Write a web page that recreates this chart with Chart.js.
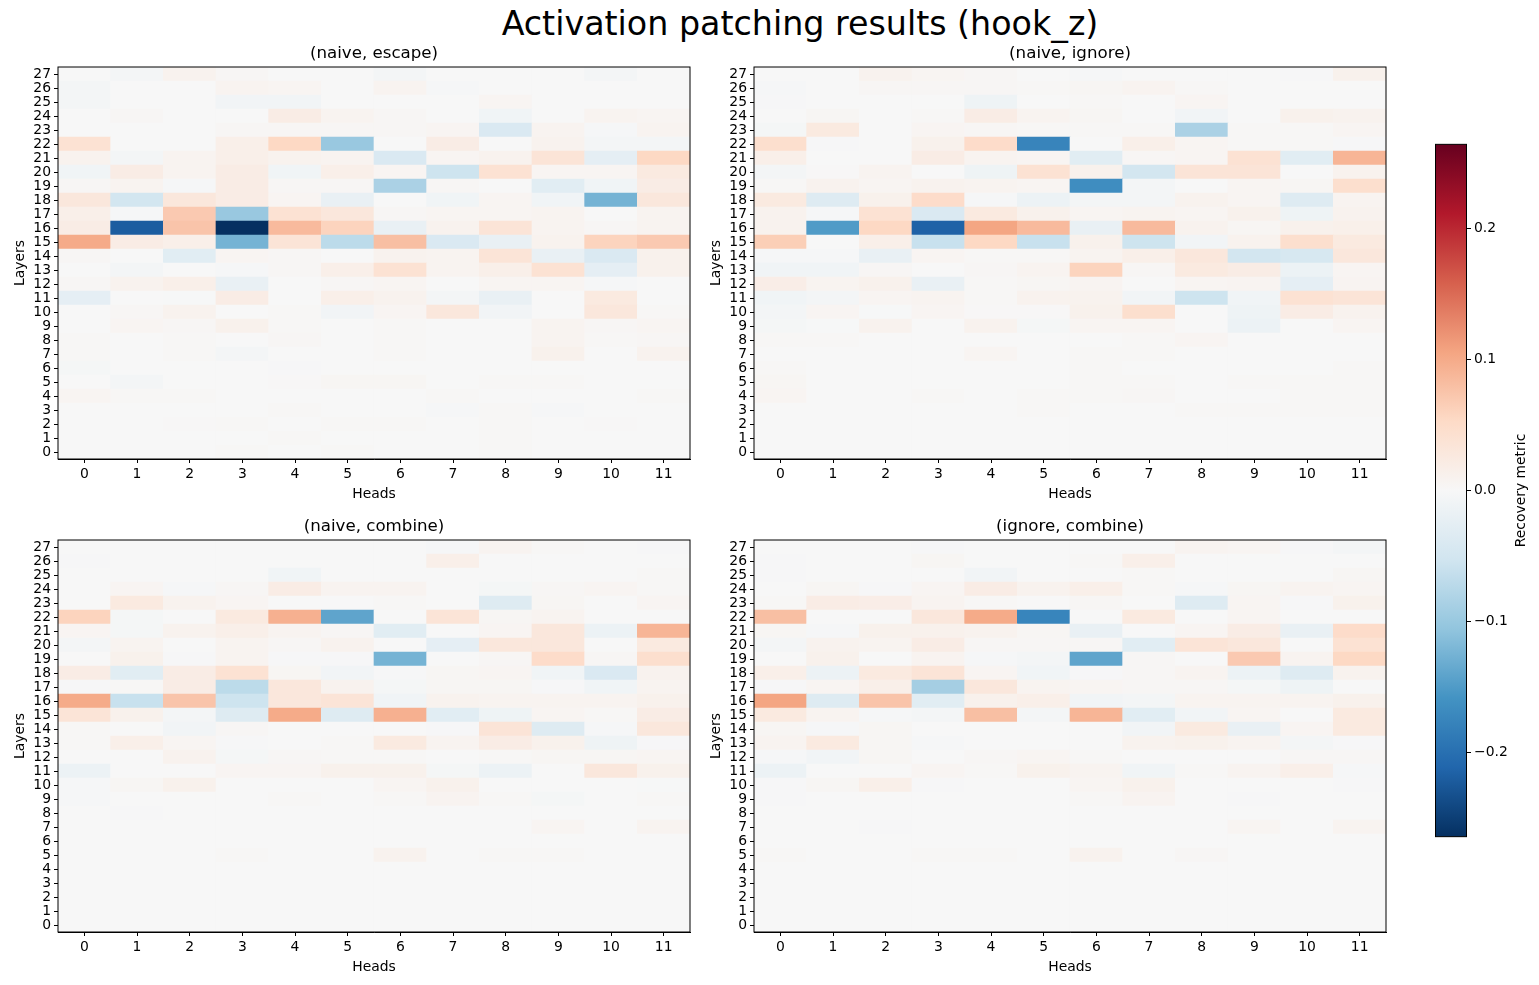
<!DOCTYPE html>
<html>
<head>
<meta charset="utf-8">
<script src="https://cdn.jsdelivr.net/npm/chart.js@4.4.1/dist/chart.umd.min.js"></script>
<style>
    body { margin: 0; background: #fff; width: 1539px; height: 985px; position: relative; overflow: hidden; font-family: "DejaVu Sans", sans-serif; }
    canvas { position: absolute; }
    #suptitle { position: absolute; left: 0; top: 4px; width: 1600px; text-align: center; font-size: 33.3px; line-height: 40px; color: #000; }
</style>
</head>
<body>
<div id="suptitle">Activation patching results (hook_z)</div>
<canvas id="p1" width="732" height="470" style="left:8px;top:37px"></canvas>
<canvas id="p2" width="732" height="470" style="left:704px;top:37px"></canvas>
<canvas id="p3" width="732" height="470" style="left:8px;top:510px"></canvas>
<canvas id="p4" width="732" height="470" style="left:704px;top:510px"></canvas>
<canvas id="cbar" width="102" height="715" style="left:1435px;top:133px"></canvas>
<script>
const heads = [0, 1, 2, 3, 4, 5, 6, 7, 8, 9, 10, 11];
const layers = [];
for (let i = 0; i < 28; i++) layers.push(i);
const cbTicks = [-0.2, -0.1, 0, 0.1, 0.2];
const VMAX = 0.264;

// rows are layers 0..27, columns heads 0..11
const naiveEscape = [
    [0, 0, 0, 0.002, 0, 0.002, 0, 0, 0.002, 0, 0, 0],
    [0, 0, 0, 0, 0.002, 0, 0, 0, 0.002, 0, 0, 0],
    [0, 0, 0.001, 0.002, 0, 0.002, 0.002, 0, 0.002, 0, 0.001, 0],
    [0, 0, 0, 0, 0.002, 0, 0, -0.003, 0.002, -0.003, 0, 0],
    [0.006, 0.002, 0.002, 0, 0, 0, 0, 0.002, 0, 0, 0, 0.002],
    [0, -0.006, 0, 0, 0.001, 0.004, 0.004, 0, 0.002, 0.002, 0, 0],
    [-0.004, 0, 0, 0, -0.002, 0, 0, 0, 0, 0, 0, 0],
    [0.002, 0, 0.002, -0.005, 0, 0, 0.002, 0, 0, 0.012, 0, 0.01],
    [0.002, 0, 0.002, 0, 0.003, 0, 0.002, 0, 0, 0.008, 0.002, 0.003],
    [0, 0.005, 0.003, 0.012, 0.002, 0, 0.002, 0, 0, 0.008, 0.003, 0.005],
    [0, 0.003, 0.01, 0, 0.002, -0.008, 0.005, 0.03, -0.008, 0, 0.03, 0.002],
    [-0.025, 0, -0.001, 0.02, 0, 0.015, 0.01, -0.005, -0.02, 0, 0.025, 0],
    [0.003, 0.01, 0.015, -0.02, 0, 0.003, 0.005, 0, 0.005, 0.005, -0.003, 0],
    [0, -0.005, 0, -0.003, 0.003, 0.015, 0.04, 0.008, 0.015, 0.04, -0.025, 0.012],
    [0.003, 0, -0.03, 0.005, 0.003, 0, 0.01, 0.008, 0.035, -0.02, -0.04, 0.012],
    [0.1, 0.02, 0.015, -0.125, 0.035, -0.07, 0.08, -0.04, -0.02, 0.01, 0.06, 0.07],
    [0.02, -0.22, 0.075, -0.264, 0.085, 0.06, -0.02, 0.01, 0.035, 0.008, 0.003, 0.008],
    [0.015, -0.003, 0.07, -0.1, 0.04, 0.03, 0.003, 0.005, 0.005, 0.008, 0, 0.008],
    [0.03, -0.05, 0.03, 0.02, 0.005, -0.02, 0, -0.01, 0.005, -0.01, -0.125, 0.03],
    [0.003, 0.008, -0.003, 0.02, 0.003, 0.003, -0.085, 0.003, 0, -0.03, -0.01, 0.02],
    [-0.01, 0.02, 0.008, 0.02, -0.01, 0.015, 0.005, -0.055, 0.04, 0.005, 0.005, 0.025],
    [0.01, -0.005, 0.008, 0.015, 0.01, 0.008, -0.04, 0.005, 0.01, 0.035, -0.025, 0.055],
    [0.04, 0, 0, 0.015, 0.055, -0.1, 0, 0.02, 0, 0.01, -0.005, -0.005],
    [0, 0, 0, 0.003, 0.003, 0.003, 0.003, 0.005, -0.04, 0.008, -0.003, 0.008],
    [0, 0.003, 0, 0, 0.02, 0.008, 0.003, 0, -0.01, 0, 0.008, 0.005],
    [-0.005, 0, 0, -0.008, -0.008, 0, 0, 0, 0.005, 0, 0, 0],
    [-0.005, 0, 0, 0.008, 0.005, 0, 0.008, -0.003, 0, 0, 0, 0],
    [0, -0.005, 0.01, 0.003, 0, 0, -0.005, 0, 0, 0, -0.005, 0],
];

const naiveIgnore = [
    [0, 0, 0, 0, 0, 0, 0, 0, 0, 0, 0, 0],
    [0, 0, 0, 0, 0, 0, 0, 0, 0, 0, 0, 0],
    [0, 0, 0, 0, 0, 0, 0, 0, 0, 0, 0, 0],
    [0, 0, 0, 0, 0, 0.002, 0, 0, 0.002, 0.002, 0.002, 0.002],
    [0.005, 0, 0, 0.002, 0, 0.002, 0.002, 0.003, 0, 0, 0.002, 0.002],
    [0.004, 0, 0, 0, 0, 0, 0.002, 0.002, 0, 0.002, 0.002, 0.002],
    [0.002, 0, 0, 0, 0, 0, 0.002, 0, 0, 0, 0, 0.002],
    [0, 0, 0, 0, 0.006, 0, 0.002, 0.002, 0, 0, 0, 0],
    [0.002, 0.002, 0, 0, 0, 0, 0, 0.002, 0.005, 0, 0, 0],
    [-0.004, -0.001, 0.01, 0, 0.01, -0.004, 0.005, 0.005, 0, -0.015, 0, 0.005],
    [-0.006, 0.006, -0.001, 0.006, 0.001, 0.001, 0.012, 0.045, 0, -0.012, 0.02, 0.01],
    [-0.01, -0.006, 0.006, 0.008, 0.002, 0.01, 0.01, -0.008, -0.055, -0.01, 0.04, 0.035],
    [0.018, 0.008, 0.012, -0.02, 0.002, 0.004, 0.007, 0, 0.006, 0.007, -0.025, 0.007],
    [-0.01, -0.01, 0.003, 0, 0.003, 0.008, 0.06, 0.003, 0.025, 0.02, -0.015, 0.005],
    [-0.003, -0.003, -0.02, 0.006, 0.002, 0.002, 0.008, 0.015, 0.03, -0.05, -0.045, 0.03],
    [0.065, 0, 0.015, -0.06, 0.055, -0.06, 0.012, -0.055, -0.008, 0.01, 0.045, 0.025],
    [0.01, -0.15, 0.055, -0.215, 0.105, 0.085, -0.02, 0.085, 0.01, 0.004, 0.012, 0.014],
    [0.01, -0.003, 0.04, -0.04, 0.025, 0.012, 0.005, 0.008, 0.006, 0.012, -0.012, 0.01],
    [0.025, -0.035, 0.012, 0.05, -0.003, -0.015, -0.005, -0.006, 0.01, 0.006, -0.035, 0.008],
    [0.002, 0.01, 0.005, 0.01, 0.008, 0.005, -0.165, -0.005, 0, 0.006, 0.004, 0.045],
    [-0.006, 0.001, 0.008, 0, -0.012, 0.04, 0.012, -0.05, 0.035, 0.035, 0, 0.01],
    [0.015, 0, 0, 0.02, 0.008, 0.006, -0.03, 0.003, 0.006, 0.04, -0.03, 0.09],
    [0.045, -0.002, 0, 0.012, 0.05, -0.176, 0, 0.015, 0.005, 0.002, 0.002, -0.002],
    [-0.004, 0.025, 0, 0.006, 0.003, 0.002, 0.002, 0.002, -0.085, 0.002, 0.002, 0.005],
    [0, 0.004, 0, 0.002, 0.02, 0.008, 0.004, 0, -0.008, 0, 0.012, 0.01],
    [-0.002, 0, 0, 0, -0.012, 0, 0.002, 0, 0.005, 0, 0, 0],
    [-0.003, 0, 0.003, 0.003, 0.003, 0.002, 0.004, 0.008, 0.002, 0, 0, 0],
    [0, 0, 0.01, 0.005, 0.003, 0, -0.003, 0, 0, 0, -0.002, 0.012],
];

const naiveCombine = [
    [0, 0, 0, 0, 0, 0, 0, 0, 0, 0, 0, 0],
    [0, 0, 0, 0, 0, 0, 0, 0, 0, 0, 0, 0],
    [0, 0, 0, 0, 0, 0, 0, 0, 0, 0, 0, 0],
    [0, 0, 0, 0, 0, 0, 0, 0, 0, 0, 0, 0],
    [0, 0, 0, 0, 0, 0, 0, 0, 0, 0, 0, 0],
    [0, 0, 0, 0.002, 0, 0, 0.01, 0, 0.002, 0.002, 0, 0],
    [0, 0, 0, 0, 0, 0, 0, 0, 0, 0, 0, 0],
    [0, 0, 0, 0, 0, 0, 0, 0, 0, 0.006, 0, 0.008],
    [0, -0.002, 0, 0, 0, 0, 0, 0, 0, 0, 0, 0],
    [-0.003, 0, 0, 0, 0.002, 0, 0.002, 0.008, 0.002, -0.004, 0, 0.002],
    [-0.003, 0.004, 0.012, 0, 0, 0, 0.006, 0.012, 0, 0, 0, -0.001],
    [-0.015, 0, 0, 0.006, 0.005, 0.012, 0.012, -0.004, -0.015, 0, 0.03, 0.012],
    [0, 0, 0.01, -0.004, 0.003, 0.002, 0.002, 0, 0.002, 0.004, 0.004, 0.006],
    [0.002, 0.015, 0.005, -0.002, 0, 0.002, 0.025, 0.008, 0.02, 0.012, -0.012, -0.002],
    [0.002, 0, -0.008, 0.003, 0, 0, 0, -0.002, 0.035, -0.035, -0.003, 0.03],
    [0.035, 0.012, -0.005, -0.035, 0.1, -0.035, 0.095, -0.03, -0.012, 0.006, 0.002, 0.02],
    [0.1, -0.06, 0.075, -0.055, 0.03, 0.035, -0.01, 0.01, 0.008, 0.008, 0.008, 0.012],
    [-0.002, 0.002, 0.02, -0.07, 0.03, 0.01, -0.004, 0.004, 0.004, -0.002, -0.01, 0.008],
    [0.02, -0.03, 0.02, 0.04, 0.004, -0.008, -0.002, 0.004, 0.006, -0.01, -0.04, 0.01],
    [0, 0.012, -0.002, 0.008, -0.002, -0.002, -0.125, 0, 0.003, 0.05, 0.003, 0.045],
    [-0.005, 0.008, 0, 0.008, 0.003, 0.01, 0, -0.025, 0.03, 0.03, 0, 0.025],
    [0.006, -0.004, 0.01, 0.015, 0.008, 0.003, -0.03, 0, 0.005, 0.03, -0.015, 0.09],
    [0.06, -0.004, 0, 0.025, 0.095, -0.14, 0, 0.035, 0.004, 0.008, 0, 0],
    [0, 0.025, 0.01, 0.006, 0, 0, 0.002, 0, -0.035, 0.004, 0, 0.006],
    [0, 0.005, -0.003, 0.003, 0.02, 0.008, 0.008, 0, -0.004, 0.003, 0.005, 0.002],
    [0, 0, 0, 0, -0.01, 0, 0, 0, 0, 0, 0, 0.002],
    [-0.002, 0, 0, 0, 0, 0, 0, 0.015, 0, 0, 0, 0],
    [0, 0, 0, 0, 0, 0, 0, -0.003, 0.008, 0.002, 0, -0.002],
];

const ignoreCombine = [
    [0, 0, 0, 0, 0, 0, 0, 0, 0, 0, 0, 0],
    [0, 0, 0, 0, 0, 0, 0, 0, 0, 0, 0, 0],
    [0, 0, 0, 0, 0, 0, 0, 0, 0, 0, 0, 0],
    [0, 0, 0, 0, 0, 0, 0, 0, 0, 0, 0, 0],
    [0, 0, 0, 0, 0, 0, 0, 0, 0, 0, 0, 0],
    [0.002, 0, 0, 0.002, 0.002, 0, 0.01, 0, 0.003, 0, 0, 0],
    [0, 0, 0, 0, 0, 0, 0, 0, 0, 0, 0, 0],
    [0, 0, -0.002, 0, 0, 0, 0, 0, 0, 0.006, 0, 0.008],
    [0, 0, 0, 0, 0, 0, 0, 0, 0, 0, 0, 0],
    [-0.002, 0, 0, 0, 0, 0, 0.002, 0.008, 0, -0.002, 0, 0],
    [-0.002, 0.004, 0.015, -0.002, 0, 0, 0.006, 0.012, 0, 0, 0, -0.002],
    [-0.015, 0, 0, 0.006, 0.002, 0.012, 0.008, -0.01, 0.002, 0.008, 0.015, -0.003],
    [-0.003, -0.008, 0.004, 0, 0.003, 0.006, 0.002, 0, 0, 0, 0.003, 0.003],
    [0.008, 0.025, 0.004, -0.003, 0, 0, 0, 0.01, 0.012, 0.008, -0.006, -0.002],
    [0.004, -0.003, 0.004, 0, 0, 0, 0, -0.008, 0.025, -0.02, 0.005, 0.025],
    [0.025, 0.008, -0.003, -0.005, 0.08, -0.005, 0.09, -0.03, -0.008, 0.005, 0, 0.025],
    [0.105, -0.035, 0.075, -0.03, 0.012, 0.015, -0.008, -0.006, 0.008, 0.008, 0.008, 0.012],
    [-0.002, 0.005, 0.015, -0.09, 0.03, 0.008, 0.006, 0.003, 0.003, -0.004, -0.012, 0],
    [0.015, -0.015, 0.025, 0.035, 0.006, -0.01, -0.002, 0.003, 0.008, -0.015, -0.035, 0.01],
    [0, 0.012, 0, 0.008, -0.003, -0.006, -0.14, 0.003, 0, 0.07, 0.008, 0.055],
    [-0.006, 0.01, 0.008, 0.02, 0.003, 0.003, 0.003, -0.03, 0.035, 0.03, 0, 0.04],
    [0.004, -0.003, 0.012, 0.012, 0.01, 0.004, -0.02, 0, 0.006, 0.02, -0.02, 0.05],
    [0.08, 0, 0, 0.03, 0.1, -0.175, 0, 0.025, 0, 0.006, 0, 0],
    [0.002, 0.02, 0.018, 0.008, 0.002, 0, 0.003, 0, -0.035, 0.006, -0.002, 0.012],
    [0, 0.004, -0.002, 0.006, 0.02, 0.01, 0.015, 0.002, -0.003, 0.004, 0.008, 0.006],
    [-0.002, 0, 0, 0, -0.008, 0, 0, 0.002, 0, 0, 0, 0.004],
    [-0.002, 0, 0, 0.004, 0, 0, 0.002, 0.015, 0, 0, 0, 0],
    [0, 0, 0, -0.002, 0, 0, 0, 0, 0.008, 0.006, -0.002, -0.006],
];

// RdBu_r colour map
const STOPS = ['#053061', '#2166ac', '#4393c3', '#92c5de', '#d1e5f0', '#f7f7f7',
               '#fddbc7', '#f4a582', '#d6604d', '#b2182b', '#67001f'];
function hexRgb(h) {
    return [parseInt(h.slice(1, 3), 16), parseInt(h.slice(3, 5), 16), parseInt(h.slice(5, 7), 16)];
}
const STOP_RGB = STOPS.map(hexRgb);
function rdbu(v) {
    let t = (v + VMAX) / (2 * VMAX);
    t = Math.max(0, Math.min(1, t)) * 10;
    const i = Math.min(9, Math.floor(t));
    const f = t - i;
    const a = STOP_RGB[i], b = STOP_RGB[i + 1];
    const c = a.map((x, k) => Math.round(x + (b[k] - x) * f));
    return 'rgb(' + c.join(',') + ')';
}

Chart.defaults.font.family = '"DejaVu Sans", sans-serif';
Chart.defaults.color = '#000';

const tickFont = { size: 13.9 };

const frame = {
    id: 'frame',
    beforeDatasetsDraw(chart) {
        const a = chart.chartArea, ctx = chart.ctx;
        ctx.save();
        ctx.fillStyle = '#f7f7f7';
        ctx.fillRect(a.left, a.top, a.right - a.left, a.bottom - a.top);
        ctx.restore();
    },
    afterDraw(chart) {
        const a = chart.chartArea, ctx = chart.ctx;
        ctx.save();
        ctx.strokeStyle = '#000';
        ctx.lineWidth = 1;
        ctx.strokeRect(a.left, a.top, a.right - a.left, a.bottom - a.top);
        ctx.restore();
    }
};

function makeHeatmap(id, title, matrix) {
    const datasets = layers.map(l => ({
        data: heads.map(() => [l - 0.5, l + 0.5]),
        backgroundColor: matrix[l].map(rdbu),
        borderWidth: 0,
        barPercentage: 1,
        categoryPercentage: 1,
        grouped: false,
    }));
    return new Chart(document.getElementById(id), {
        type: 'bar',
        data: { labels: heads.map(String), datasets: datasets },
        options: {
            responsive: false,
            animation: false,
            layout: { padding: 0 },
            plugins: {
                legend: { display: false },
                tooltip: { enabled: false },
                title: {
                    display: true,
                    text: title,
                    color: '#000',
                    font: { size: 16.67, weight: 'normal', lineHeight: 1.2 },
                    padding: { top: 7, bottom: 3 },
                },
            },
            scales: {
                x: {
                    type: 'category',
                    offset: true,
                    grid: { offset: false, drawOnChartArea: false, drawTicks: true, tickLength: 4, color: '#000' },
                    border: { display: true, color: '#000' },
                    ticks: { font: tickFont, padding: 3, maxRotation: 0, autoSkip: false },
                    title: { display: true, text: 'Heads', font: tickFont, padding: { top: 2, bottom: 4 } },
                    afterFit: s => { s.height = 48; },
                },
                y: {
                    type: 'linear',
                    min: -0.5,
                    max: 27.5,
                    afterBuildTicks: s => { s.ticks = layers.map(v => ({ value: v })); },
                    grid: { drawOnChartArea: false, drawTicks: true, tickLength: 4, color: '#000' },
                    border: { display: true, color: '#000' },
                    ticks: { font: tickFont, padding: 3, autoSkip: false, callback: v => String(v) },
                    title: { display: true, text: 'Layers', font: tickFont, padding: { top: 4, bottom: 2 } },
                    afterFit: s => { s.width = 50; },
                },
                // empty spacer on the right so the panel title centres over the plot
                spacer: {
                    type: 'linear',
                    position: 'right',
                    grid: { display: false },
                    border: { display: false },
                    ticks: { display: false },
                    afterFit: s => { s.width = 50; },
                },
            },
        },
        plugins: [frame],
    });
}

makeHeatmap('p1', '(naive, escape)', naiveEscape);
makeHeatmap('p2', '(naive, ignore)', naiveIgnore);
makeHeatmap('p3', '(naive, combine)', naiveCombine);
makeHeatmap('p4', '(ignore, combine)', ignoreCombine);

// colour bar
const cbarPlugin = {
    id: 'cbarPlugin',
    beforeDraw(chart) {
        const a = chart.chartArea, ctx = chart.ctx;
        const g = ctx.createLinearGradient(0, a.bottom, 0, a.top);
        STOPS.forEach((c, i) => g.addColorStop(i / 10, c));
        ctx.save();
        ctx.fillStyle = g;
        ctx.fillRect(a.left, a.top, a.right - a.left, a.bottom - a.top);
        ctx.restore();
    },
    afterDraw(chart) {
        const a = chart.chartArea, ctx = chart.ctx;
        ctx.save();
        ctx.strokeStyle = '#000';
        ctx.lineWidth = 1;
        ctx.strokeRect(a.left + 0.5, a.top, a.right - a.left - 1, a.bottom - a.top);
        ctx.translate(a.right + 54, (a.top + a.bottom) / 2);
        ctx.rotate(-Math.PI / 2);
        ctx.fillStyle = '#000';
        ctx.font = '13.9px "DejaVu Sans"';
        ctx.textAlign = 'center';
        ctx.textBaseline = 'middle';
        ctx.fillText('Recovery metric', 0, 0);
        ctx.restore();
    }
};

new Chart(document.getElementById('cbar'), {
    type: 'bar',
    data: { labels: [''], datasets: [] },
    options: {
        responsive: false,
        animation: false,
        layout: { padding: { left: 0, right: 0, top: 8, bottom: 8 } },
        plugins: { legend: { display: false }, tooltip: { enabled: false } },
        scales: {
            x: { display: false },
            y: {
                position: 'right',
                min: -VMAX,
                max: VMAX,
                afterBuildTicks: s => { s.ticks = cbTicks.map(v => ({ value: v })); },
                grid: { drawOnChartArea: false, drawTicks: true, tickLength: 4, color: '#000' },
                border: { display: false },
                ticks: {
                    font: tickFont,
                    padding: 3,
                    callback: v => v.toFixed(1).replace('-', '\u2212'),
                },
                afterFit: s => { s.width = 70; },
            },
        },
    },
    plugins: [cbarPlugin],
});
</script>
</body>
</html>
